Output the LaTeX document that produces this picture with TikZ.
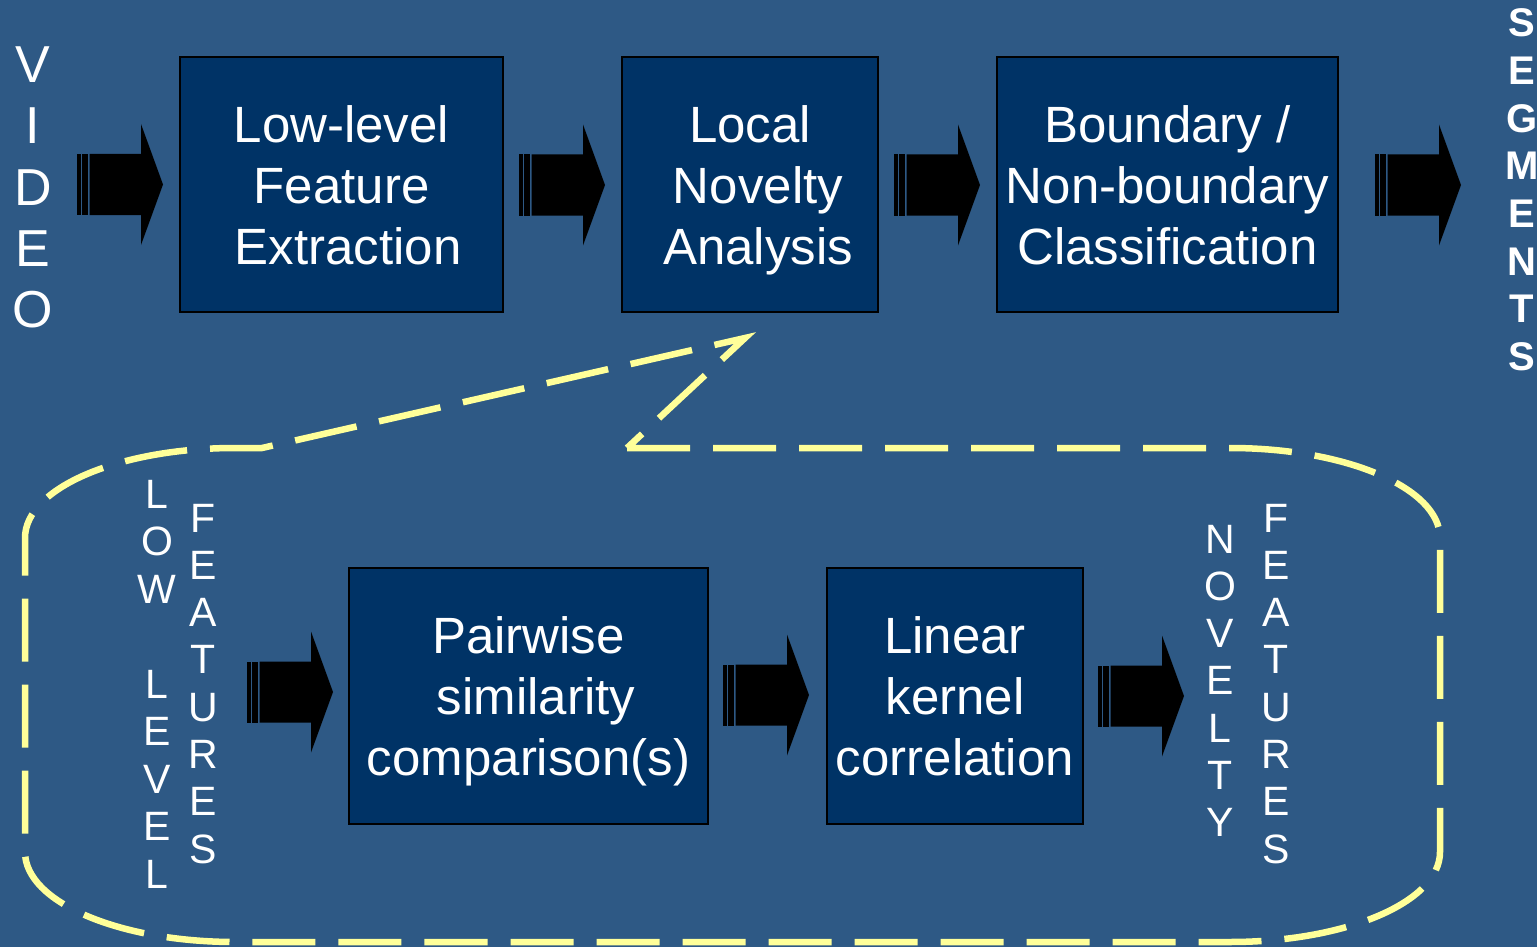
\documentclass[tikz,border=0pt]{standalone}
\usepackage{fontspec}
\setmainfont{Liberation Sans}
\definecolor{bgblue}{RGB}{46,89,133}
\definecolor{boxfill}{RGB}{0,51,102}
\definecolor{calloutyellow}{RGB}{255,255,153}
\newcommand\firstlinestrut{\rule{0pt}{50pt}}
\newcommand\lastlinestrut{\rule[-13pt]{0pt}{13pt}}
\tikzset{
  stripearrow/.pic={
    \fill[black] (0,-30.5) rectangle (3.5,30.5);
    \fill[black] (5,-30.5) rectangle (11,30.5);
    \fill[black] (12.5,-30.5) -- (64,-30.5) -- (64,-60.5) -- (86,0) -- (64,60.5) -- (64,30.5) -- (12.5,30.5) -- cycle;
  }
}
\begin{document}
\begin{tikzpicture}[x=1pt,y=-1pt,
  procbox/.style={draw=black, line width=2.5pt, fill=boxfill, text=white, align=center,
    font=\fontsize{51}{61}\selectfont, inner sep=0pt},
  bigletter/.style={text=white, inner sep=0pt, anchor=base, font=\fontsize{52}{61}\selectfont},
  segletter/.style={text=white, inner sep=0pt, anchor=base, font=\fontsize{40}{47}\selectfont\bfseries},
  smallletter/.style={text=white, inner sep=0pt, anchor=base, font=\fontsize{41}{47}\selectfont},
  callout/.style={draw=calloutyellow, line width=6.5pt, dash pattern=on 63pt off 23pt}
]
\fill[bgblue] (0,0) rectangle (1537,947);
\useasboundingbox (0,0) rectangle (1537,947);

% top row boxes
\node[procbox, minimum width=323, minimum height=255] (b1) at (341.5,184.5)
  {\firstlinestrut Low-level\\Feature\\\hspace*{13pt}Extraction\lastlinestrut};
\node[procbox, minimum width=256, minimum height=255] (b2) at (750,184.5)
  {\firstlinestrut Local\\\hspace*{16pt}Novelty\\\hspace*{16pt}Analysis\lastlinestrut};
\node[procbox, minimum width=341, minimum height=255] (b3) at (1167.5,184.5)
  {\firstlinestrut Boundary /\\Non-boundary\\Classification\lastlinestrut};

% bottom row boxes
\node[procbox, minimum width=359, minimum height=256] (b4) at (528.5,696)
  {\firstlinestrut Pairwise\\\hspace*{15pt}similarity\\comparison(s)\lastlinestrut};
\node[procbox, minimum width=256, minimum height=256] (b5) at (955,696)
  {\firstlinestrut Linear\\kernel\\correlation\lastlinestrut};

% striped block arrows
\pic at (77,184.5) {stripearrow};
\pic at (519,185) {stripearrow};
\pic at (894,185) {stripearrow};
\pic at (1375,185) {stripearrow};
\pic at (247,692) {stripearrow};
\pic at (723,695) {stripearrow};
\pic at (1098,696) {stripearrow};

% vertical texts
\foreach \l [count=\i] in {V,I,D,E,O}
  \node[bigletter] (video\i) at (33,{22+61*\i}) {\l};
\foreach \l [count=\i] in {S,E,G,M,E,N,T,S}
  \node[segletter] (seg\i) at (1522,{37+47.6*(\i-1)}) {\l};
\foreach \l/\k [count=\i] in {L/0,O/1,W/2,L/4,E/5,V/6,E/7,L/8}
  \node[smallletter] (low\i) at (157,{508+47.5*\k}) {\l};
\foreach \l [count=\i] in {F,E,A,T,U,R,E,S}
  \node[smallletter] (featl\i) at (203,{532+47.3*(\i-1)}) {\l};
\foreach \l [count=\i] in {N,O,V,E,L,T,Y}
  \node[smallletter] (nov\i) at (1220,{553+47.3*(\i-1)}) {\l};
\foreach \l [count=\i] in {F,E,A,T,U,R,E,S}
  \node[smallletter] (featr\i) at (1276,{532+47.3*(\i-1)}) {\l};

% dashed callout
\draw[callout] (627,448) -- (1230,448)
  .. controls (1346,448) and (1440,488) .. (1440,538)
  -- (1440,852)
  .. controls (1440,902) and (1346,942) .. (1230,942)
  -- (235,942)
  .. controls (119,942) and (25,902) .. (25,852)
  -- (25,538)
  .. controls (25,488) and (119,448) .. (235,448)
  -- (262,448) -- (745,338) -- cycle;
\end{tikzpicture}
\end{document}
